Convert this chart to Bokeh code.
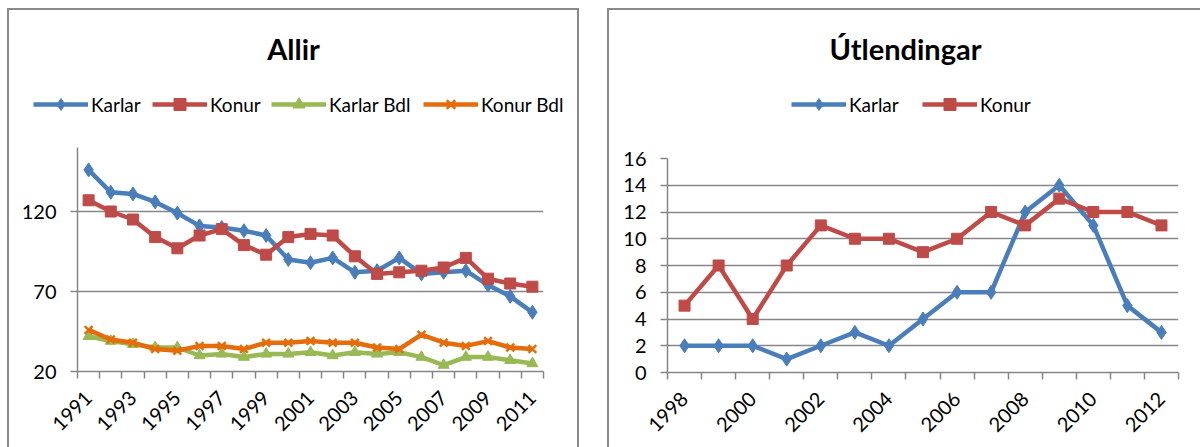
import math
from bokeh.plotting import figure
from bokeh.models import Range1d, FixedTicker, Legend, LegendItem, Label
from bokeh.layouts import row, column
from bokeh.embed import file_html
from bokeh.resources import INLINE

# ---------------- data ----------------
years_allir = list(range(1991, 2012))
karlar_allir = [146, 132, 131, 126, 119, 111, 110, 108, 105, 90, 88, 91, 82, 83, 91, 81, 82, 83, 74, 67, 57]
konur_allir = [127, 120, 115, 104, 97, 105, 109, 99, 93, 104, 106, 105, 92, 81, 82, 83, 85, 91, 78, 75, 73]
karlar_bdl = [42, 39, 37, 35, 35, 30, 31, 29, 31, 31, 32, 30, 32, 31, 32, 29, 24, 29, 29, 27, 25]
konur_bdl = [46, 40, 38, 34, 33, 36, 36, 34, 38, 38, 39, 38, 38, 35, 34, 43, 38, 36, 39, 35, 34]
allir_yticks = [20, 70, 120]
allir_xlabels = list(range(1991, 2012, 2))

years_utl = list(range(1998, 2013))
karlar_utl = [2, 2, 2, 1, 2, 3, 2, 4, 6, 6, 12, 14, 11, 5, 3]
konur_utl = [5, 8, 4, 8, 11, 10, 10, 9, 10, 12, 11, 13, 12, 12, 11]
utl_yticks = list(range(0, 17, 2))
utl_xlabels = list(range(1998, 2013, 2))

FONT = "Lato"
GRAY = "#868686"
BORDER = "#8a8a8a"
BLUE = "#4A7EBB"
RED = "#BE4B48"
GREEN = "#98B954"
ORANGE = "#E46C0A"
HEADER_H = 127


def style(p, xlabels, years, yticks):
    p.outline_line_color = None
    p.background_fill_color = "white"
    p.border_fill_color = "white"
    p.xgrid.grid_line_color = None
    p.ygrid.grid_line_color = GRAY
    p.ygrid.grid_line_width = 1.5
    bounds = [y - 0.5 for y in years] + [years[-1] + 0.5]
    xa = p.xaxis[0]
    ya = p.yaxis[0]
    xa.ticker = FixedTicker(ticks=xlabels, minor_ticks=bounds)
    ya.ticker = FixedTicker(ticks=yticks)
    for ax in (xa, ya):
        ax.axis_line_color = GRAY
        ax.axis_line_width = 1.5
        ax.major_tick_line_color = GRAY
        ax.major_tick_line_width = 1.5
        ax.minor_tick_line_color = GRAY
        ax.minor_tick_line_width = 1.5
        ax.major_label_text_font = FONT
        ax.major_label_text_color = "black"
        ax.major_label_text_font_size = "20px"
    ya.major_tick_out = 7
    ya.major_tick_in = 0
    ya.minor_tick_out = 0
    ya.minor_tick_in = 0
    ya.major_label_standoff = 14
    xa.major_tick_out = 0
    xa.major_tick_in = 0
    xa.minor_tick_out = 7
    xa.minor_tick_in = 0
    xa.major_label_standoff = 16
    xa.major_label_orientation = math.pi / 4


def series(p, x, y, color, marker, size, visible=True):
    l = p.line(x, y, line_width=4.5, line_color=color, line_join="round", visible=visible)
    if marker == "x":
        s = p.scatter(x, y, marker="x", size=size, line_color=color, line_width=2.5,
                      visible=visible)
    else:
        s = p.scatter(x, y, marker=marker, size=size, fill_color=color, line_color=color,
                      visible=visible)
    return l, s


def header(width, title, title_x, entries):
    h = figure(width=width, height=HEADER_H, output_backend="svg", toolbar_location=None,
               x_range=Range1d(0, width), y_range=Range1d(HEADER_H, 0),
               x_axis_location=None, y_axis_location=None,
               min_border_left=0, min_border_right=0, min_border_top=0, min_border_bottom=0)
    h.frame_align = False
    h.outline_line_color = None
    h.xgrid.visible = False
    h.ygrid.visible = False
    for label, xs, ys, color, marker, size, lx in entries:
        r = series(h, xs, ys, color, marker, size, visible=False)
        h.add_layout(Legend(items=[LegendItem(label=label, renderers=list(r))],
                            location=(lx, 18), orientation="horizontal",
                            glyph_width=55, glyph_height=30, label_standoff=3,
                            padding=0, margin=0, border_line_color=None,
                            background_fill_alpha=0, inactive_fill_alpha=0,
                            label_text_font=FONT, label_text_font_size="19px",
                            label_text_color="black"))
    h.add_layout(Label(x=title_x, y=38, text=title, text_align="center", text_baseline="middle",
                       text_font=FONT, text_font_style="bold", text_font_size="29px",
                       text_color="black"))
    return h


# ---------------- left: Allir ----------------
h1 = header(568, "Allir", 284, [
    ("Karlar", years_allir, karlar_allir, BLUE, "diamond", 14, 24),
    ("Konur", years_allir, konur_allir, RED, "square", 11, 143),
    ("Karlar Bdl", years_allir, karlar_bdl, GREEN, "triangle", 11, 262),
    ("Konur Bdl", years_allir, konur_bdl, ORANGE, "x", 11, 414),
])
p1 = figure(width=568, height=447 - 10 - HEADER_H, output_backend="svg", toolbar_location=None,
            x_range=Range1d(1990.5, 2011.5), y_range=Range1d(20, 160),
            min_border_left=68, min_border_right=34, min_border_top=10, min_border_bottom=76)
p1.frame_align = False
style(p1, allir_xlabels, years_allir, allir_yticks)
series(p1, years_allir, karlar_allir, BLUE, "diamond", 14)
series(p1, years_allir, konur_allir, RED, "square", 11)
series(p1, years_allir, karlar_bdl, GREEN, "triangle", 11)
series(p1, years_allir, konur_bdl, ORANGE, "x", 11)
col1 = column(h1, p1, spacing=0)
col1.styles = {"border-top": f"2px solid {BORDER}", "border-left": f"2px solid {BORDER}",
               "border-right": f"2px solid {BORDER}"}
col1.margin = (8, 0, 0, 7)

# ---------------- right: Útlendingar ----------------
h2 = header(591, "Útlendingar", 296, [
    ("Karlar", years_utl, karlar_utl, BLUE, "diamond", 14, 182),
    ("Konur", years_utl, konur_utl, RED, "square", 11, 313),
])
p2 = figure(width=591, height=447 - 10 - HEADER_H, output_backend="svg", toolbar_location=None,
            x_range=Range1d(1997.5, 2012.5), y_range=Range1d(0, 16),
            min_border_left=58, min_border_right=22, min_border_top=21, min_border_bottom=75)
p2.frame_align = False
style(p2, utl_xlabels, years_utl, utl_yticks)
series(p2, years_utl, karlar_utl, BLUE, "diamond", 14)
series(p2, years_utl, konur_utl, RED, "square", 11)
col2 = column(h2, p2, spacing=0)
col2.styles = {"border-top": f"2px solid {BORDER}", "border-left": f"2px solid {BORDER}"}
col2.margin = (8, 0, 0, 0)

layout = row(col1, col2, spacing=28)
open("out.html", "w").write(file_html(layout, INLINE))
